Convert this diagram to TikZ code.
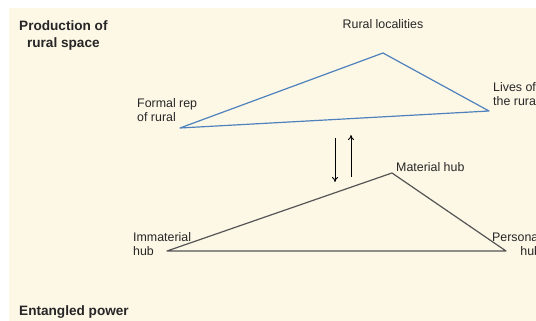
\documentclass[tikz,border=0pt]{standalone}
\usepackage{fontspec}
\setmainfont{Liberation Sans}
\usetikzlibrary{arrows.meta}
\definecolor{bg}{HTML}{FDF7E6}
\definecolor{topblue}{HTML}{4F81BD}
\definecolor{hubgrey}{HTML}{555555}
\begin{document}
\begin{tikzpicture}[x=1pt,y=-1pt,
  lbl/.style={font=\fontsize{12.4}{14.5}\selectfont, inner sep=0pt, align=left, text=black!85},
  ttl/.style={font=\fontsize{13.6}{17}\selectfont\bfseries, inner sep=0pt, align=center, text=black!85},
  topedge/.style={topblue, line width=1.2pt, line join=round},
  botedge/.style={hubgrey, line width=1.2pt, line join=round},
  flow/.style={black, line width=0.9pt, -{To[length=5pt,width=6pt]}}]
\useasboundingbox (0,0) rectangle (536,321);
\clip (0,0) rectangle (536,321);
\fill[white] (0,0) rectangle (536,321);
\fill[bg] (9,8) rectangle (536,321);
% top triangle
\coordinate (ra) at (383,53);
\coordinate (rl) at (180,128);
\coordinate (rr) at (489,111);
\draw[topedge] (rl) -- (ra) -- (rr) -- cycle;
% bottom triangle
\coordinate (ma) at (392,173);
\coordinate (il) at (167,251);
\coordinate (pr) at (506,251);
\draw[botedge] (il) -- (ma) -- (pr) -- cycle;
% labels
\node[ttl, anchor=west] (prod) at (19,35) {Production of\\rural space};
\node[ttl, anchor=west] (ent) at (19,312) {Entangled power};
\node[lbl] (rurloc) at (383,24) {Rural localities};
\node[lbl, anchor=west] (formal) at (137,110) {Formal rep\\of rural};
\node[lbl, anchor=west] (lives) at (493,94) {Lives of\\the rural};
\node[lbl, anchor=west] (mat) at (396,167) {Material hub};
\node[lbl, anchor=west] (imm) at (133,244) {Immaterial\\hub};
\node[lbl, anchor=west, align=right] (pers) at (492,244) {Personal\\hub};
% arrows
\coordinate (d1) at (335,138);
\coordinate (d2) at (335,182);
\coordinate (u1) at (351,177);
\coordinate (u2) at (351,135);
\draw[flow] (d1) -- (d2);
\draw[flow] (u1) -- (u2);
\end{tikzpicture}
\end{document}
